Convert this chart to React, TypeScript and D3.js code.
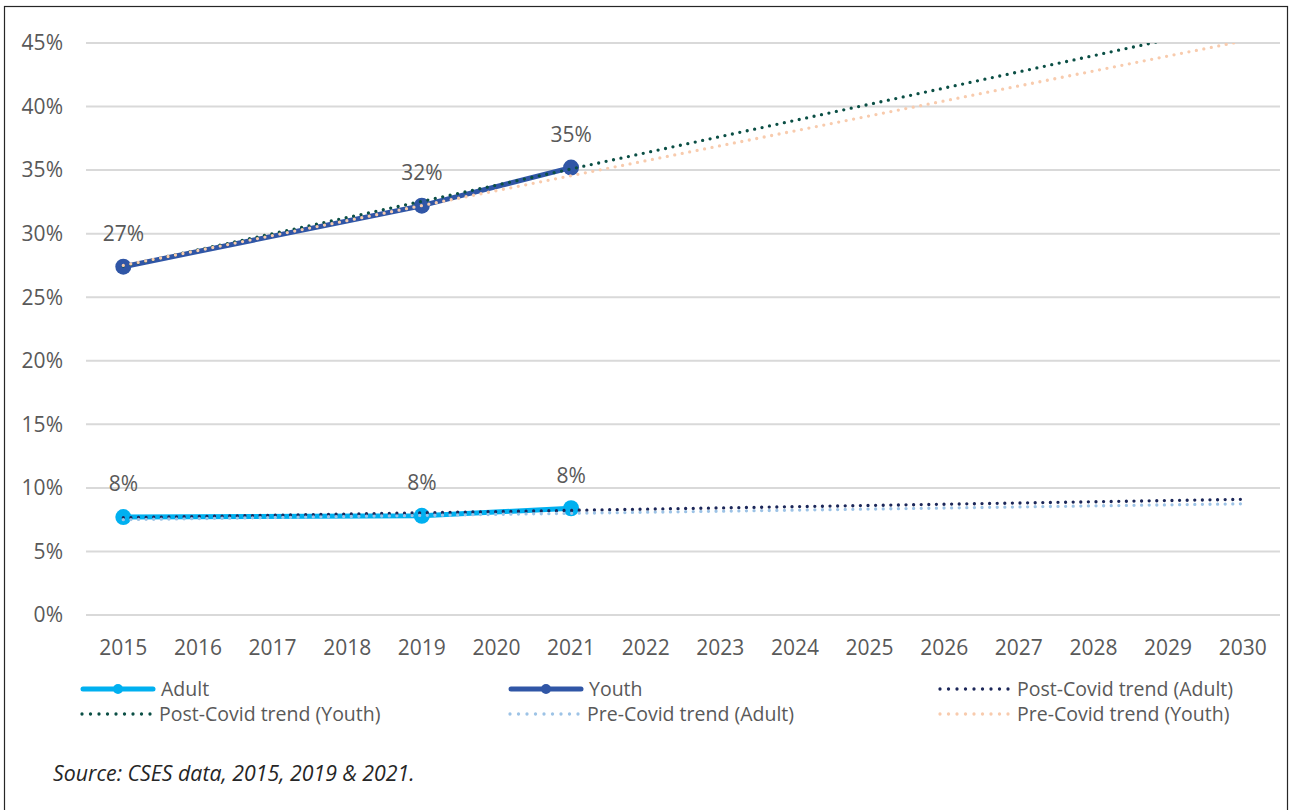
import React from "react";
import * as d3 from "d3";

const years = ["2015","2016","2017","2018","2019","2020","2021","2022","2023","2024","2025","2026","2027","2028","2029","2030"];
const yTicks = [0, 5, 10, 15, 20, 25, 30, 35, 40, 45];

const adultYears = ["2015", "2019", "2021"];
const adultValues = [7.7, 7.8, 8.4];
const youthYears = ["2015", "2019", "2021"];
const youthValues = [27.4, 32.2, 35.2];
const adultLabels = ["8%", "8%", "8%"];
const youthLabels = ["27%", "32%", "35%"];

// Trend lines: endpoints (2015 and 2030)
const trendYears = ["2015", "2030"];
const postCovidAdult = [7.65, 9.1];
const postCovidYouth = [27.45, 46.55];
const preCovidAdult = [7.5, 8.75];
const preCovidYouth = [27.5, 45.15];

const legendNames = [
  "Adult", "Youth", "Post-Covid trend (Adult)",
  "Post-Covid trend (Youth)", "Pre-Covid trend (Adult)", "Pre-Covid trend (Youth)",
];

const C_ADULT = "#00b0f0";
const C_YOUTH = "#3056a6";
const C_POST_ADULT = "#1c2759";
const C_POST_YOUTH = "#0b4f45";
const C_PRE_ADULT = "#9dc3e6";
const C_PRE_YOUTH = "#f8cbad";
const TEXT = "#595959";
const FONT = "'Open Sans', 'Noto Sans', sans-serif";

export default function App() {
  const left = 86, right = 1280, top = 43, bottom = 615;
  const x = d3.scaleBand<string>().domain(years).range([left, right]);
  const cx = (yr: string) => (x(yr) as number) + x.bandwidth() / 2;
  const y = d3.scaleLinear().domain([0, 45]).range([bottom, top]);
  const line = d3.line<[string, number]>().x(d => cx(d[0])).y(d => y(d[1]));

  const mk = (ys: string[], vs: number[]) => ys.map((yr, i) => [yr, vs[i]] as [string, number]);

  const trends = [
    { vals: postCovidAdult, color: C_POST_ADULT },
    { vals: postCovidYouth, color: C_POST_YOUTH },
    { vals: preCovidAdult, color: C_PRE_ADULT },
    { vals: preCovidYouth, color: C_PRE_YOUTH },
  ];

  const legendItems = [
    { name: legendNames[0], kind: "solid", color: C_ADULT, lx: 81, ly: 689, len: 74 },
    { name: legendNames[1], kind: "solid", color: C_YOUTH, lx: 509, ly: 689, len: 74 },
    { name: legendNames[2], kind: "dot", color: C_POST_ADULT, lx: 940, ly: 689, len: 70 },
    { name: legendNames[3], kind: "dot", color: C_POST_YOUTH, lx: 82, ly: 714, len: 70 },
    { name: legendNames[4], kind: "dot", color: C_PRE_ADULT, lx: 510, ly: 714, len: 70 },
    { name: legendNames[5], kind: "dot", color: C_PRE_YOUTH, lx: 940, ly: 714, len: 70 },
  ];

  return (
    <svg width={1290} height={810} style={{ position: "absolute", left: 0, top: 0, background: "#fff" }} fontFamily={FONT}>
      <defs>
        <clipPath id="plotClip">
          <rect x={left} y={top} width={right - left} height={bottom - top} />
        </clipPath>
      </defs>
      <rect x={4.5} y={6.5} width={1283} height={820} fill="none" stroke="#262626" strokeWidth={1.2} />

      {yTicks.map(t => (
        <g key={t}>
          <line x1={left} x2={right} y1={y(t)} y2={y(t)} stroke="#d9d9d9" strokeWidth={2} />
          <text x={63} y={y(t)} dy="0.35em" textAnchor="end" fontSize={21} fill={TEXT}>{t}%</text>
        </g>
      ))}
      {years.map(yr => (
        <text key={yr} x={cx(yr)} y={648} dy="0.35em" textAnchor="middle" fontSize={21} fill={TEXT}>{yr}</text>
      ))}

      <path d={line(mk(adultYears, adultValues)) as string} fill="none" stroke={C_ADULT} strokeWidth={5} strokeLinejoin="round" strokeLinecap="round" />
      {adultYears.map((yr, i) => (
        <circle key={"a" + yr} cx={cx(yr)} cy={y(adultValues[i])} r={8} fill={C_ADULT} />
      ))}
      <path d={line(mk(youthYears, youthValues)) as string} fill="none" stroke={C_YOUTH} strokeWidth={5} strokeLinejoin="round" strokeLinecap="round" />
      {youthYears.map((yr, i) => (
        <circle key={"y" + yr} cx={cx(yr)} cy={y(youthValues[i])} r={8} fill={C_YOUTH} />
      ))}

      <g clipPath="url(#plotClip)">
        {trends.map((t, i) => (
          <path key={i} d={line(mk(trendYears, t.vals)) as string} fill="none" stroke={t.color}
            strokeWidth={3.3} strokeDasharray="0 7.6" strokeLinecap="round" />
        ))}
      </g>

      {adultYears.map((yr, i) => (
        <text key={"al" + yr} x={cx(yr)} y={y(adultValues[i]) - 33} dy="0.35em" textAnchor="middle" fontSize={21} fill={TEXT}>{adultLabels[i]}</text>
      ))}
      {youthYears.map((yr, i) => (
        <text key={"yl" + yr} x={cx(yr)} y={y(youthValues[i]) - 33} dy="0.35em" textAnchor="middle" fontSize={21} fill={TEXT}>{youthLabels[i]}</text>
      ))}

      {legendItems.map(it => (
        <g key={it.name}>
          {it.kind === "solid" ? (
            <>
              <line x1={it.lx + 2} x2={it.lx + it.len - 2} y1={it.ly} y2={it.ly} stroke={it.color} strokeWidth={5} strokeLinecap="round" />
              <circle cx={it.lx + it.len / 2} cy={it.ly} r={5} fill={it.color} />
            </>
          ) : (
            <line x1={it.lx} x2={it.lx + it.len} y1={it.ly} y2={it.ly} stroke={it.color} strokeWidth={3.3} strokeDasharray="0 8.5" strokeLinecap="round" />
          )}
          <text x={it.kind === "solid" ? it.lx + it.len + 6 : it.lx + 77} y={it.ly} dy="0.35em" fontSize={19.5} fill={TEXT}>{it.name}</text>
        </g>
      ))}

      <text x={53} y={774} dy="0.35em" fontSize={21.3} fontStyle="italic" fill="#262626">Source: CSES data, 2015, 2019 &amp; 2021.</text>
    </svg>
  );
}
